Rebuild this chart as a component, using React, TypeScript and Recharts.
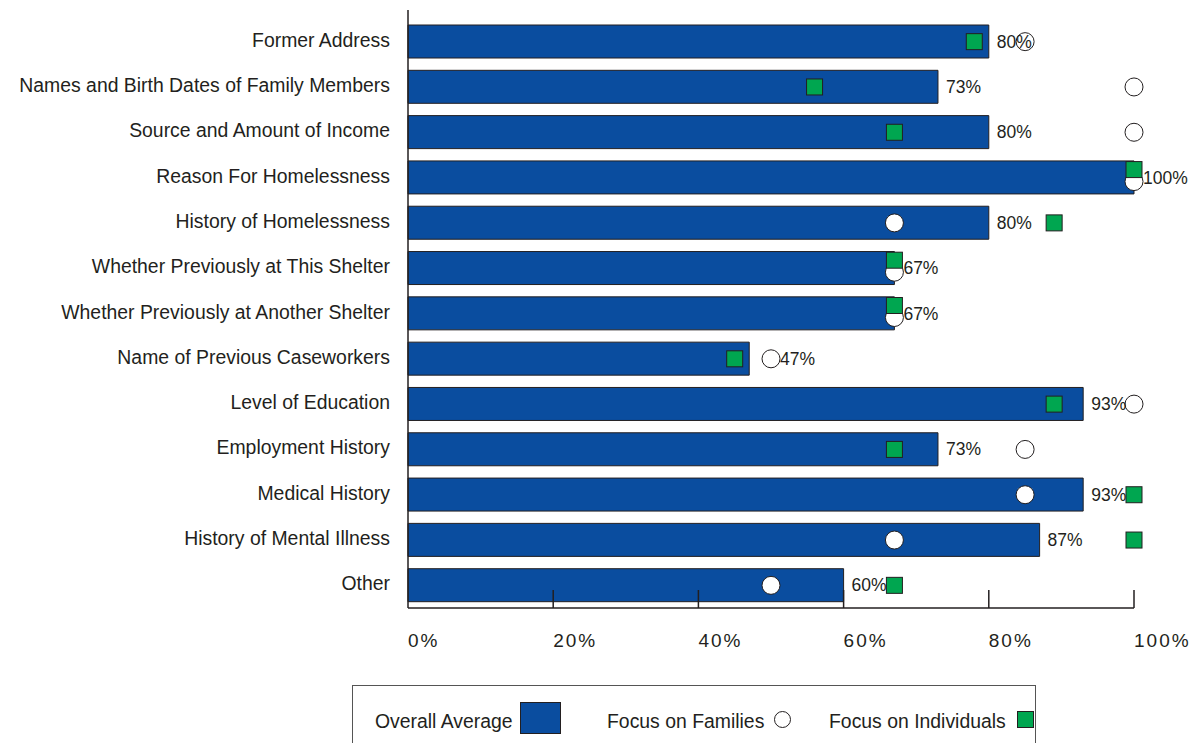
import { Bar, ComposedChart, LabelList, Line, XAxis, YAxis } from "recharts";

const categories = [
  "Former Address",
  "Names and Birth Dates of Family Members",
  "Source and Amount of Income",
  "Reason For Homelessness",
  "History of Homelessness",
  "Whether Previously at This Shelter",
  "Whether Previously at Another Shelter",
  "Name of Previous Caseworkers",
  "Level of Education",
  "Employment History",
  "Medical History",
  "History of Mental Illness",
  "Other",
];
const overall = [80, 73, 80, 100, 80, 67, 67, 47, 93, 73, 93, 87, 60];
const families = [85, 100, 100, 100, 67, 67, 67, 50, 100, 85, 85, 67, 50];
const individuals = [78, 56, 67, 100, 89, 67, 67, 45, 89, 67, 100, 100, 67];
const xTicks = [0, 20, 40, 60, 80, 100];

const data = categories.map((name, i) => ({
  name,
  overall: overall[i],
  families: families[i],
  individuals: individuals[i],
}));

const W = 1192;
const H = 690;
const MARGIN = { top: 10, right: 58, bottom: 0, left: 8 };
const Y_WIDTH = 400;
const PLOT_LEFT = MARGIN.left + Y_WIDTH;
const PX_PER_UNIT = (W - MARGIN.right - PLOT_LEFT) / 100;

const BLUE = "#0a4d9f";
const GREEN = "#00a650";
const INK = "#231f20";
const SANS = "'Liberation Sans', Arial, sans-serif";

function CategoryTick({ x, y, payload }: any) {
  return (
    <text x={x} y={y - 2} textAnchor="end" dominantBaseline="central" fontSize={19.4} fontFamily={SANS} fill={INK}>
      {payload.value}
    </text>
  );
}

function PercentTick({ x, y, payload }: any) {
  return (
    <g>
      {payload.value > 0 && <line x1={x} y1={y} x2={x} y2={y - 18} stroke={INK} strokeWidth={1.5} />}
      <text x={x} y={y + 39} textAnchor="start" fontSize={19} letterSpacing={2} fontFamily={SANS} fill={INK}>
        {`${payload.value}%`}
      </text>
    </g>
  );
}

function FamilyDot({ cx, cy, index, payload }: any) {
  const dy = payload.families === payload.individuals ? 4 : 0;
  return <circle key={`f-${index}`} cx={cx} cy={cy + dy} r={9} fill="#fff" stroke={INK} strokeWidth={1} />;
}

function IndividualDot({ cx, cy, index, payload }: any) {
  const dy = payload.families === payload.individuals ? -8 : 0;
  return <rect key={`i-${index}`} x={cx - 8} y={cy + dy - 8} width={16} height={16} fill={GREEN} stroke={INK} strokeWidth={1} />;
}

function ValueLabel({ x, y, value, index }: any) {
  let lx = x + 8;
  for (const m of [families[index], individuals[index]]) {
    const mx = PLOT_LEFT + m * PX_PER_UNIT;
    if (mx >= x - 4 && mx <= x + 30) lx = Math.max(lx, mx + 9);
  }
  return (
    <text x={lx} y={y} textAnchor="start" dominantBaseline="central" fontSize={17.5} fontFamily={SANS} fill={INK}>
      {`${value}%`}
    </text>
  );
}

function LegendBox() {
  const text = { position: "absolute" as const, top: 21, fontSize: 19.4, fontFamily: SANS, color: INK, lineHeight: "28px" };
  return (
    <div
      style={{
        position: "absolute",
        left: 352,
        top: 685,
        width: 684,
        height: 80,
        border: "1px solid #555",
        boxSizing: "border-box",
        background: "#fff",
      }}
    >
      <span style={{ ...text, left: 22 }}>Overall Average</span>
      <div style={{ position: "absolute", left: 167, top: 16, width: 41, height: 32, background: BLUE, border: `1px solid ${INK}`, boxSizing: "border-box" }} />
      <span style={{ ...text, left: 254 }}>Focus on Families</span>
      <div style={{ position: "absolute", left: 421, top: 25, width: 17, height: 17, borderRadius: "50%", border: `1px solid ${INK}`, boxSizing: "border-box" }} />
      <span style={{ ...text, left: 476 }}>Focus on Individuals</span>
      <div style={{ position: "absolute", left: 664, top: 25, width: 17, height: 17, background: GREEN, border: `1px solid ${INK}`, boxSizing: "border-box" }} />
    </div>
  );
}

export default function App() {
  return (
    <div style={{ position: "absolute", left: 0, top: 0, width: W, height: 743, overflow: "hidden", background: "#fff" }}>
      <ComposedChart width={W} height={H} data={data} layout="vertical" margin={MARGIN}>
        <XAxis
          type="number"
          domain={[0, 100]}
          ticks={xTicks}
          height={H - MARGIN.top - 598}
          axisLine={{ stroke: INK, strokeWidth: 1.5 }}
          tickLine={false}
          tickSize={0}
          tickMargin={0}
          tick={<PercentTick />}
          interval={0}
        />
        <YAxis
          type="category"
          dataKey="name"
          width={Y_WIDTH}
          padding={{ top: 9, bottom: 0 }}
          axisLine={{ stroke: INK, strokeWidth: 1.5 }}
          tickLine={false}
          tickSize={0}
          tickMargin={18}
          tick={<CategoryTick />}
          interval={0}
        />
        <Bar dataKey="overall" fill={BLUE} stroke={INK} strokeWidth={1} barSize={33} isAnimationActive={false} />
        <Line dataKey="families" stroke="none" dot={<FamilyDot />} activeDot={false} isAnimationActive={false} />
        <Line dataKey="individuals" stroke="none" dot={<IndividualDot />} activeDot={false} isAnimationActive={false} />
        <Line dataKey="overall" stroke="none" dot={false} activeDot={false} isAnimationActive={false}>
          <LabelList dataKey="overall" content={<ValueLabel />} />
        </Line>
      </ComposedChart>
      <LegendBox />
    </div>
  );
}
